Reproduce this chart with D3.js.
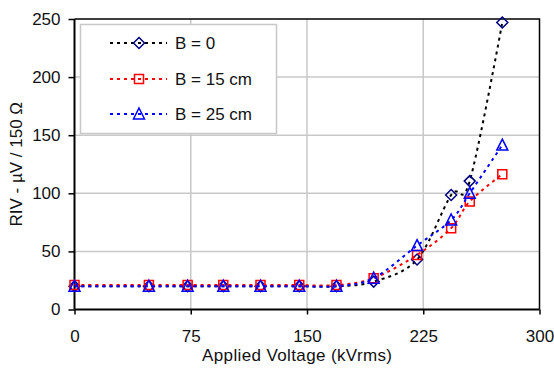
<!DOCTYPE html>
<html>
<head>
<meta charset="utf-8">
<script src="https://cdn.jsdelivr.net/npm/d3@7/dist/d3.min.js"></script>
<style>
  html, body { margin: 0; padding: 0; background: #fff; }
  svg { display: block; font-family: "Liberation Sans", Arial, sans-serif; }
</style>
</head>
<body>
<svg id="chart" width="554" height="368"></svg>
<script>
// Applied voltage (kVrms) at each measurement
const voltage = [0, 48, 73, 96, 120, 145, 169, 193, 221, 243, 255, 276];

// RIV (µV / 150 Ω) for each spacing
const rivB0  = [20, 20, 20, 20, 20, 20, 20, 24, 43, 98.5, 110.5, 247];
const rivB15 = [21, 21, 21, 21, 21, 21, 21, 27, 47, 70, 93, 116.5];
const rivB25 = [20, 20, 20, 20, 20, 20, 20, 27, 55, 77, 100, 141.5];

const seriesNames = ["B = 0", "B = 15 cm", "B = 25 cm"];
const xTicks = [0, 75, 150, 225, 300];
const yTicks = [0, 50, 100, 150, 200, 250];

const series = [
  { name: seriesNames[0], values: rivB0,  line: "#000000", marker: "#000080", shape: "diamond" },
  { name: seriesNames[1], values: rivB15, line: "#ff0000", marker: "#ff0000", shape: "square" },
  { name: seriesNames[2], values: rivB25, line: "#0000ff", marker: "#0000ff", shape: "triangle" }
];

const svg = d3.select("#chart");
const pLeft = 74.5, pRight = 539.5, pTop = 19, pBottom = 309.5;

const x = d3.scaleLinear().domain([0, 300]).range([pLeft, pRight]);
const y = d3.scaleLinear().domain([0, 250]).range([pBottom, pTop]);

// gridlines
const grid = svg.append("g").attr("stroke", "#c8c8c8").attr("stroke-width", 1.5);
grid.selectAll("line.h").data(yTicks.filter(d => d > 0 && d < 250)).join("line")
  .attr("class", "h")
  .attr("x1", pLeft).attr("x2", pRight)
  .attr("y1", d => y(d)).attr("y2", d => y(d));
grid.selectAll("line.v").data(xTicks.filter(d => d > 0 && d < 300)).join("line")
  .attr("class", "v")
  .attr("x1", d => x(d)).attr("x2", d => x(d))
  .attr("y1", pTop).attr("y2", pBottom);

// plot frame (top and right)
svg.append("path")
  .attr("d", `M${pLeft},${pTop}H${pRight}V${pBottom}`)
  .attr("fill", "none").attr("stroke", "#000").attr("stroke-width", 1.5);

// axes
const xAxis = d3.axisBottom(x).tickValues(xTicks).tickSize(5).tickPadding(15);
const yAxis = d3.axisLeft(y).tickValues(yTicks).tickSize(6).tickPadding(8);

const gx = svg.append("g").attr("transform", `translate(0,${pBottom})`).call(xAxis);
const gy = svg.append("g").attr("transform", `translate(${pLeft},0)`).call(yAxis);
[gx, gy].forEach(g => {
  g.select(".domain").attr("stroke", "#000").attr("stroke-width", 2);
  g.selectAll(".tick line").attr("stroke", "#000").attr("stroke-width", 1.5);
  g.selectAll(".tick text").attr("fill", "#111").style("font-size", "17px")
    .style("font-family", "'Liberation Sans', Arial, sans-serif");
});
gx.select(".domain").attr("d", `M${pLeft},0H${pRight}`);
gy.select(".domain").attr("d", `M0,${pTop}V${pBottom}`);

// axis titles
svg.append("text")
  .attr("x", 297).attr("y", 361)
  .attr("text-anchor", "middle").attr("font-size", 17).attr("fill", "#111")
  .attr("textLength", 190).attr("lengthAdjust", "spacing")
  .text("Applied Voltage (kVrms)");
svg.append("text")
  .attr("transform", `translate(22,${(pTop + pBottom) / 2}) rotate(-90)`)
  .attr("text-anchor", "middle").attr("font-size", 17).attr("fill", "#111")
  .text("RIV - µV / 150 Ω");

// marker shapes
function markerPath(shape) {
  if (shape === "diamond") return "M0,-5.5L5.5,0L0,5.5L-5.5,0Z";
  if (shape === "square") return "M-4.5,-4.5H4.5V4.5H-4.5Z";
  return "M0,-6L5.5,5H-5.5Z";
}

const line = d3.line()
  .x((d, i) => x(voltage[i]))
  .y(d => y(d))
  .curve(d3.curveCatmullRom.alpha(0));

const plot = svg.append("g");
series.forEach(s => {
  plot.append("path")
    .attr("d", line(s.values))
    .attr("fill", "none")
    .attr("stroke", s.line)
    .attr("stroke-width", 2)
    .attr("stroke-dasharray", "3,4");
  plot.append("g").selectAll("path").data(s.values).join("path")
    .attr("transform", (d, i) => `translate(${x(voltage[i])},${y(d)})`)
    .attr("d", markerPath(s.shape))
    .attr("fill", "none")
    .attr("stroke", s.marker)
    .attr("stroke-width", 1.5);
});

// legend
const legend = svg.append("g");
legend.append("rect")
  .attr("x", 80.5).attr("y", 24.5).attr("width", 196).attr("height", 109)
  .attr("fill", "#fff").attr("stroke", "#c8c8c8").attr("stroke-width", 1.5);
const rowY = [43, 79, 114];
series.forEach((s, i) => {
  const g = legend.append("g").attr("transform", `translate(0,${rowY[i]})`);
  g.append("line").attr("x1", 110).attr("x2", 167).attr("y1", 0).attr("y2", 0)
    .attr("stroke", s.line).attr("stroke-width", 2).attr("stroke-dasharray", "3,4");
  g.append("path").attr("transform", "translate(139,0)").attr("d", markerPath(s.shape))
    .attr("fill", "none").attr("stroke", s.marker).attr("stroke-width", 1.5);
  g.append("text").attr("x", 175).attr("y", 6).attr("font-size", 17).attr("fill", "#111")
    .text(s.name);
});
</script>
</body>
</html>
